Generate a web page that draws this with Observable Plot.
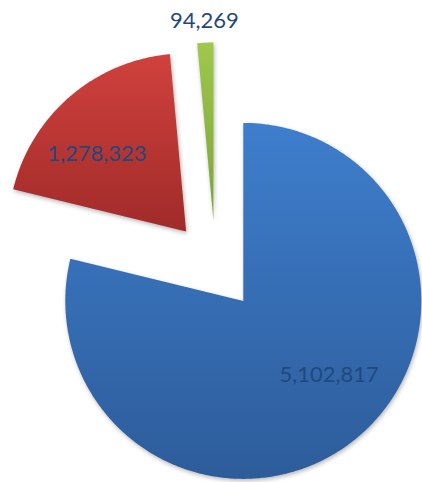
<!DOCTYPE html>
<html>
<head>
<meta charset="utf-8">
<script src="https://cdn.jsdelivr.net/npm/d3@7"></script>
<script src="https://cdn.jsdelivr.net/npm/@observablehq/plot@0.6"></script>
<style>
  html, body { margin: 0; padding: 0; background: #fff; }
  #chart svg .slice path { filter: drop-shadow(1px 2px 2px rgba(0,0,0,0.28)); }
</style>
</head>
<body>
<div id="chart"></div>
<script>
// ---- data ----
const categories = ["Slice 1", "Slice 2", "Slice 3"];
const values = [5102817, 1278323, 94269];
const valueLabels = ["5,102,817", "1,278,323", "94,269"];

// ---- styles / layout ----
const W = 422, H = 482;
const center = [215, 265];
const radius = 178;
const explode = 45;
const gradients = [
  ["#3e7ecd", "#2d5c9a"],
  ["#d0413d", "#a02b29"],
  ["#9fc84c", "#7ca23a"]
];
const labelColor = "#1f497d";

const pie = d3.pie().sort(null).startAngle(0).endAngle(2 * Math.PI)(values);
const pt = (c, r, a) => [c[0] + r * Math.sin(a), c[1] - r * Math.cos(a)];

const polys = pie.map((s, i) => {
  const mid = (s.startAngle + s.endAngle) / 2;
  const apex = pt(center, explode, mid);
  const pts = [{x: apex[0], y: apex[1], k: i}];
  const n = Math.max(4, Math.ceil((s.endAngle - s.startAngle) / 0.01));
  for (let j = 0; j <= n; j++) {
    const a = s.startAngle + (s.endAngle - s.startAngle) * j / n;
    const p = pt(apex, radius, a);
    pts.push({x: p[0], y: p[1], k: i});
  }
  return pts;
});

const labels = pie.map((s, i) => {
  const mid = (s.startAngle + s.endAngle) / 2;
  const apex = pt(center, explode, mid);
  const frac = (s.endAngle - s.startAngle) / (2 * Math.PI);
  const p = frac < 0.05 ? pt(apex, radius + 18, mid) : pt(apex, radius * 0.65, mid - 0.17);
  return {x: p[0], y: p[1], text: valueLabels[i], name: categories[i]};
});

const plot = Plot.plot({
  width: W,
  height: H,
  margin: 0,
  x: {domain: [0, W], range: [0, W], axis: null},
  y: {domain: [0, H], range: [0, H], axis: null},
  marks: [
    ...polys.map((p, i) => Plot.line(p, {
      x: "x", y: "y", curve: "linear-closed",
      fill: `url(#grad${i})`, stroke: "none", className: "slice"
    })),
    Plot.text(labels, {
      x: "x", y: "y", text: "text", dy: -4,
      fill: labelColor, fontSize: 22, fontFamily: "Lato, sans-serif"
    })
  ]
});

// gradient definitions
const ns = "http://www.w3.org/2000/svg";
const defs = document.createElementNS(ns, "defs");
gradients.forEach(([top, bottom], i) => {
  const g = document.createElementNS(ns, "linearGradient");
  g.setAttribute("id", `grad${i}`);
  g.setAttribute("x1", "0"); g.setAttribute("y1", "0");
  g.setAttribute("x2", "0"); g.setAttribute("y2", "1");
  [[0, top], [1, bottom]].forEach(([o, c]) => {
    const s = document.createElementNS(ns, "stop");
    s.setAttribute("offset", o);
    s.setAttribute("stop-color", c);
    g.appendChild(s);
  });
  defs.appendChild(g);
});
plot.insertBefore(defs, plot.firstChild);
document.getElementById("chart").appendChild(plot);
</script>
</body>
</html>
